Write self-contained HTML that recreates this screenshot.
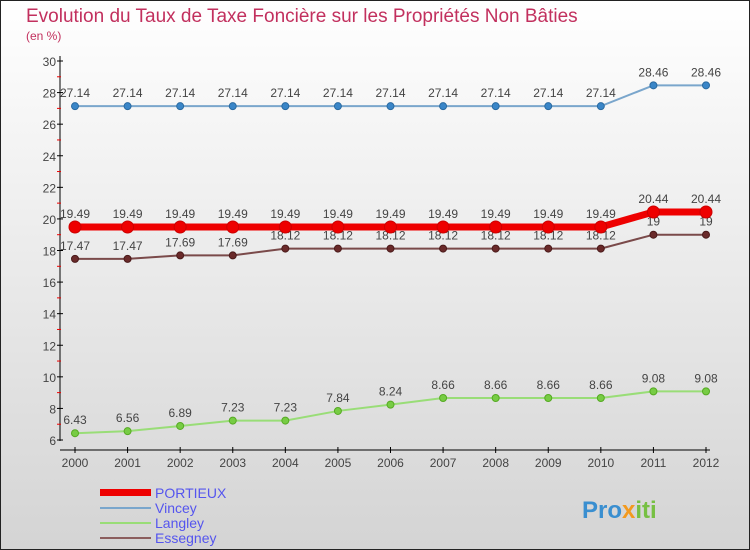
<!DOCTYPE html>
<html><head><meta charset="utf-8"><style>
body{margin:0;width:750px;height:550px;overflow:hidden}
svg{display:block;font-family:"Liberation Sans",sans-serif}
</style></head><body>
<svg id="c" width="750" height="550">
<defs><linearGradient id="bg" x1="0" y1="0" x2="0" y2="1"><stop offset="0" stop-color="#ffffff"/><stop offset="1" stop-color="#d4d4d4"/></linearGradient></defs>
<rect x="0.5" y="0.5" width="749" height="549" fill="url(#bg)" stroke="#222"/>
<text x="26" y="22" font-size="19" fill="#c2305e">Evolution du Taux de Taxe Foncière sur les Propriétés Non Bâties</text>
<text x="26" y="40" font-size="12" fill="#c2305e">(en %)</text>
<g id="axes"></g><g id="series"></g>
<g>
<rect x="100" y="489" width="51" height="7" fill="#e00"/>
<text x="155" y="498" font-size="14" fill="#5555ee">PORTIEUX</text>
<line x1="100" y1="508" x2="151" y2="508" stroke="#7aa6cc" stroke-width="2"/>
<text x="155" y="513" font-size="14" fill="#5555ee">Vincey</text>
<line x1="100" y1="523" x2="151" y2="523" stroke="#99dd77" stroke-width="2"/>
<text x="155" y="528" font-size="14" fill="#5555ee">Langley</text>
<line x1="100" y1="538" x2="151" y2="538" stroke="#8b5e5e" stroke-width="2"/>
<text x="155" y="543" font-size="14" fill="#5555ee">Essegney</text>
</g>
<text x="582" y="518" font-size="24" font-weight="bold" fill="#3a8fd0">Pro<tspan fill="#f39a1e">x</tspan><tspan fill="#77c043">iti</tspan></text>
</svg>
<script>
const years=["2000","2001","2002","2003","2004","2005","2006","2007","2008","2009","2010","2011","2012"];
const portieux=[19.49,19.49,19.49,19.49,19.49,19.49,19.49,19.49,19.49,19.49,19.49,20.44,20.44];
const vincey=[27.14,27.14,27.14,27.14,27.14,27.14,27.14,27.14,27.14,27.14,27.14,28.46,28.46];
const langley=[6.43,6.56,6.89,7.23,7.23,7.84,8.24,8.66,8.66,8.66,8.66,9.08,9.08];
const essegney=[17.47,17.47,17.69,17.69,18.12,18.12,18.12,18.12,18.12,18.12,18.12,19,19];
const yTicks=[6,8,10,12,14,16,18,20,22,24,26,28,30];
const NS="http://www.w3.org/2000/svg";
const x=i=>75+i*(631/12);
const y=v=>440-(v-6)*(379/24);
function mk(t,a,p){const e=document.createElementNS(NS,t);for(const k in a)e.setAttribute(k,a[k]);p.appendChild(e);return e;}
const ax=document.getElementById('axes');
let l=mk('line',{x1:60,y1:56,x2:60,y2:441,stroke:'#000'},ax);


l=mk('line',{x1:60,y1:450,x2:710,y2:450,stroke:'#000'},ax);


yTicks.forEach(v=>{
 mk('line',{x1:57,y1:y(v),x2:63,y2:y(v),stroke:'#000'},ax);
 if(v<30)mk('line',{x1:57,y1:y(v+1),x2:61,y2:y(v+1),stroke:'#e00'},ax);
 const t=mk('text',{x:56,y:y(v)+5,'font-size':12,fill:'#444','text-anchor':'end'},ax);
 t.textContent=v;
 
 
});
years.forEach((yr,i)=>{
 mk('line',{x1:x(i),y1:447,x2:x(i),y2:453,stroke:'#000'},ax);
 const t=mk('text',{x:x(i),y:467,'font-size':12,fill:'#444','text-anchor':'middle'},ax);
 t.textContent=yr;
 
 
});
const sg=document.getElementById('series');
function series(name,vals,col,w,r,dot,dotStroke){
 const g=mk('g',{},sg);
 
 
 const p=mk('polyline',{points:vals.map((v,i)=>x(i)+','+y(v)).join(' '),fill:'none',stroke:col,'stroke-width':w},g);
 
 
 vals.forEach((v,i)=>{
  const c=mk('circle',{cx:x(i),cy:y(v),r:r,fill:dot,stroke:dotStroke,'stroke-width':1},g);
  
  
  const t=mk('text',{x:x(i),y:y(v)-9,'font-size':12,fill:'#444','text-anchor':'middle'},g);
  t.textContent=v;
  
  
 });
}
series('vincey',vincey,'#7aa6cc',2,3.5,'#3a86c8','#2a6aa0');
series('langley',langley,'#99dd77',2,3.5,'#77cc44','#55aa22');
series('essegney',essegney,'#7a4a4a',2,3.5,'#6a2a2a','#4a1a1a');
series('portieux',portieux,'#ee0000',7,6,'#ee0000','#cc0000');
</script>
</body></html>
